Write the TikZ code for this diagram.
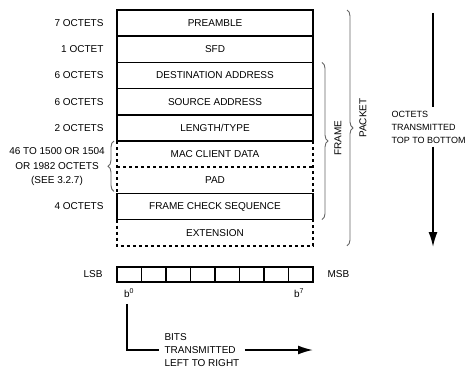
\documentclass[tikz,border=0pt]{standalone}
\usepackage{fontspec}
\setmainfont{Liberation Sans}
\usetikzlibrary{arrows.meta,decorations.pathreplacing,calc,positioning}
\tikzset{
  field/.style={draw,line width=1.6pt,minimum width=196pt,minimum height=26.2pt,inner sep=0pt,outer sep=0pt},
  openfield/.style={minimum width=196pt,minimum height=26.2pt,inner sep=0pt,outer sep=0pt},
  dots/.style={line width=1.6pt,dash pattern=on 3pt off 3pt},
  bitcell/.style={draw,line width=1.5pt,minimum width=24.5pt,minimum height=15pt,inner sep=0pt,outer sep=0pt},
  brc/.style={decorate,decoration={brace,amplitude=6pt},gray!80!black,line width=0.9pt},
  arr/.style={line width=1.7pt},
  tip/.style={-{Latex[length=15pt,width=9pt]}},
  small/.style={font=\fontsize{9}{13}\selectfont,align=left}
}
\begin{document}
\begin{tikzpicture}[x=1pt,y=-1pt]
\useasboundingbox (0,0) rectangle (468,369);
\node[field] (pre) at (215,23.1) {PREAMBLE};
\node[field,below=0pt of pre] (sfd) {SFD};
\node[field,below=0pt of sfd] (da) {DESTINATION ADDRESS};
\node[field,below=0pt of da] (sa) {SOURCE ADDRESS};
\node[field,below=0pt of sa] (lt) {LENGTH/TYPE};
\node[openfield,below=0pt of lt] (mac) {MAC CLIENT DATA};
\node[openfield,below=0pt of mac] (pad) {PAD};
\node[field,below=0pt of pad] (fcs) {FRAME CHECK SEQUENCE};
\node[openfield,below=0pt of fcs] (ext) {EXTENSION};
\draw[dots] (mac.north west) -- (pad.south west);
\draw[dots] (mac.north east) -- (pad.south east);
\draw[dots] (mac.south west) -- (mac.south east);
\draw[dots] (ext.north west) -- (ext.south west) -- (ext.south east) -- (ext.north east);

\node[left=10pt of pre] (opre) {7 OCTETS};
\node[left=10pt of sfd] (osfd) {1 OCTET};
\node[left=10pt of da] (oda) {6 OCTETS};
\node[left=10pt of sa] (osa) {6 OCTETS};
\node[left=10pt of lt] (olt) {2 OCTETS};
\node[align=center,font=\fontsize{10}{14.5}\selectfont] (omac) at (57,167) {46 TO 1500 OR 1504\\OR 1982 OCTETS\\(SEE 3.2.7)};
\node[left=10pt of fcs] (ofcs) {4 OCTETS};
\draw[brc] ($(pad.south west)+(-3,-2)$) -- ($(mac.north west)+(-3,0)$);

\draw[brc] ($(da.north east)+(9,0)$) -- ($(fcs.south east)+(9,0)$);
\node[rotate=90] (frm) at (338,138) {FRAME};
\draw[brc] ($(pre.north east)+(34,0)$) -- ($(ext.south east)+(34,0)$);
\node[rotate=90] (pkt) at (363,118) {PACKET};

\node[small,anchor=west] (otx) at (388,127) {OCTETS\\TRANSMITTED\\TOP TO BOTTOM};
\coordinate (vtop) at (433,13);
\coordinate (vbot) at (433,247);
\draw[arr] (vtop) -- (vtop |- otx.north);
\draw[arr,tip] (vtop |- otx.south) -- (vbot);

\foreach \i in {0,...,7}
  \node[bitcell] (cell\i) at ({129.25+24.5*\i},274.5) {};
\node[left=11pt of cell0] (lsb) {LSB};
\node[right=11pt of cell7] (msb) {MSB};
\node (blo) at (129,293) {b\textsuperscript{0}};
\node (bhi) at (299,293) {b\textsuperscript{7}};
\node[align=left,anchor=west,font=\fontsize{10}{13}\selectfont] (btx) at (161,350) {BITS\\TRANSMITTED\\LEFT TO RIGHT};
\coordinate (bend) at (313,350);
\draw[arr,shorten <=3pt] ([xshift=-2pt]blo.south) |- ([xshift=-2pt]btx.west);
\draw[arr,tip] ([xshift=2pt]btx.east) -- (bend);
\end{tikzpicture}
\end{document}
